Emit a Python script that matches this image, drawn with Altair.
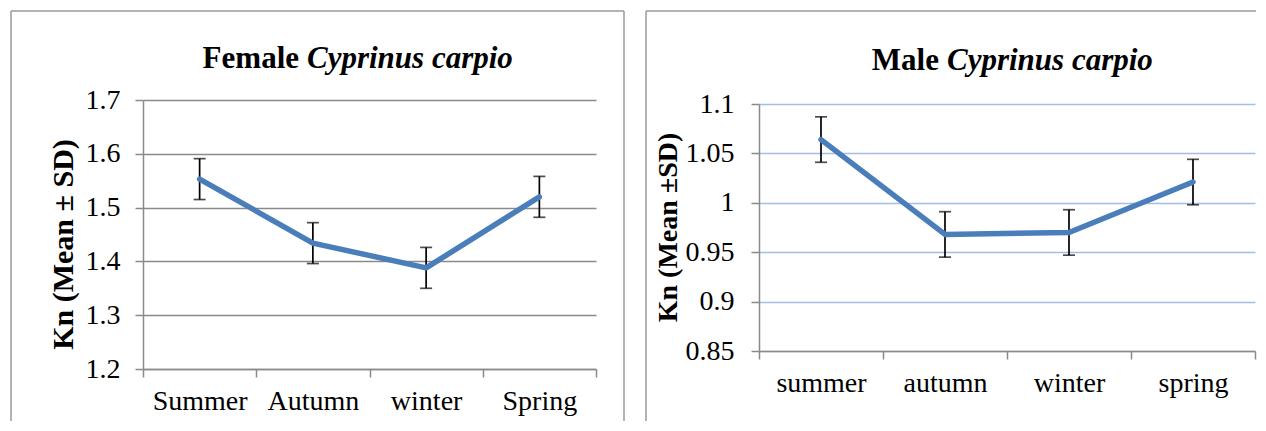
import altair as alt
import pandas as pd

# ---- data ----
female_seasons = ["Summer", "Autumn", "winter", "Spring"]
female_mean = [1.553, 1.434, 1.388, 1.520]
female_sd = [0.038, 0.038, 0.038, 0.038]
female_ticks = [1.2, 1.3, 1.4, 1.5, 1.6, 1.7]

male_seasons = ["summer", "autumn", "winter", "spring"]
male_mean = [1.064, 0.968, 0.970, 1.021]
male_sd = [0.023, 0.023, 0.023, 0.023]
male_ticks = [0.85, 0.9, 0.95, 1.0, 1.05, 1.1]

female_title = ["Female", "Cyprinus carpio"]
male_title = ["Male", "Cyprinus carpio"]
female_ytitle = "Kn (Mean \u00b1 SD)"
male_ytitle = "Kn (Mean \u00b1SD)"

FONT = "Liberation Serif"
LINE = "#4a7ebb"
GRAY = "#8a8a8a"
BORDER = "#9a9a9a"


def panel(seasons, mean, sd, ticks, fmt, width, height, yrange, grid_color,
          ytitle, ytitle_size, ytitle_x, ytitle_y, title, title_split_x,
          title_y, ylabel_pad, border_left, border_right, border_bottom,
          right_edge=True):
    df = pd.DataFrame({
        "season": seasons,
        "mean": mean,
        "lo": [m - s for m, s in zip(mean, sd)],
        "hi": [m + s for m, s in zip(mean, sd)],
    })
    xaxis = alt.Axis(title=None, tickBand="extent", labelAngle=0,
                     labelFont=FONT, labelFontSize=28, labelColor="black",
                     labelPadding=10, tickSize=8, tickColor=GRAY, tickWidth=1.5,
                     domainColor=GRAY, domainWidth=1.5, grid=False, zindex=1)
    xscale = alt.Scale(paddingInner=0, paddingOuter=0)
    x = alt.X("season:N", sort=seasons, scale=xscale, axis=xaxis)
    yscale = alt.Scale(domain=[ticks[0], ticks[-1]], range=yrange,
                       nice=False, zero=False)
    yaxis = alt.Axis(values=ticks, format=fmt, title=ytitle,
                     titleFont=FONT, titleFontSize=ytitle_size,
                     titleFontWeight="bold", titleColor="black",
                     titleX=ytitle_x, titleY=ytitle_y, titleAngle=270,
                     titleAlign="center", titleBaseline="middle",
                     labelFont=FONT, labelFontSize=28, labelColor="black",
                     labelPadding=ylabel_pad, tickSize=8, tickColor=GRAY,
                     tickWidth=1.5, domainColor=GRAY, domainWidth=1.5,
                     grid=True, gridColor=grid_color, gridWidth=1.5)

    def Y(field):
        return alt.Y(field, scale=yscale, axis=yaxis)

    base = alt.Chart(df)
    bar = base.mark_rule(color="black", strokeWidth=1.7).encode(
        x=x, y=Y("lo:Q"), y2="hi:Q")
    cap_lo = base.mark_tick(color="black", thickness=1.7, size=12,
                            orient="horizontal").encode(x=x, y=Y("lo:Q"))
    cap_hi = base.mark_tick(color="black", thickness=1.7, size=12,
                            orient="horizontal").encode(x=x, y=Y("hi:Q"))
    line = base.mark_line(color=LINE, strokeWidth=5.5,
                          strokeCap="round", strokeJoin="round").encode(
        x=x, y=Y("mean:Q"))

    one = alt.Chart(pd.DataFrame({"k": [0]}))
    t1 = one.mark_text(text=title[0], font=FONT, fontSize=31,
                       fontWeight="bold", align="right",
                       baseline="alphabetic", color="black").encode(
        x=alt.value(title_split_x), y=alt.value(title_y))
    t2 = one.mark_text(text=title[1], font=FONT, fontSize=31,
                       fontWeight="bold", fontStyle="italic", align="left",
                       baseline="alphabetic", color="black").encode(
        x=alt.value(title_split_x + 8), y=alt.value(title_y))
    top = -89
    b_top = one.mark_rule(color=BORDER, strokeWidth=1.5).encode(
        x=alt.value(border_left), x2=alt.value(border_right),
        y=alt.value(top))
    b_left = one.mark_rule(color=BORDER, strokeWidth=1.5).encode(
        x=alt.value(border_left), y=alt.value(top),
        y2=alt.value(border_bottom))
    layers = [b_top, b_left, bar, cap_lo, cap_hi, line, t1, t2]
    if right_edge:
        b_right = one.mark_rule(color=BORDER, strokeWidth=1.5).encode(
            x=alt.value(border_right), y=alt.value(top),
            y2=alt.value(border_bottom))
        layers.insert(2, b_right)
    return alt.layer(*layers).properties(width=width, height=height)


left = panel(female_seasons, female_mean, female_sd, female_ticks, ".1f",
             453, 269, [269, 0], GRAY, female_ytitle, 30, -80, 144,
             female_title, 156, -32, 15, -132, 481, 321)
right = panel(male_seasons, male_mean, male_sd, male_ticks, "~g",
              496, 251, [251, 4], "#a3bde6", male_ytitle, 28, -91, 127,
              male_title, 180, -30, 17, -113, 497, 321, right_edge=False)

chart = alt.hconcat(left, right, spacing=163, bounds="flush").properties(
    padding={"left": 2, "top": 2, "right": 0, "bottom": 0},
    background="white",
).configure_view(strokeWidth=0)

chart.save("out.html", embed_options={"renderer": "svg", "actions": False})
